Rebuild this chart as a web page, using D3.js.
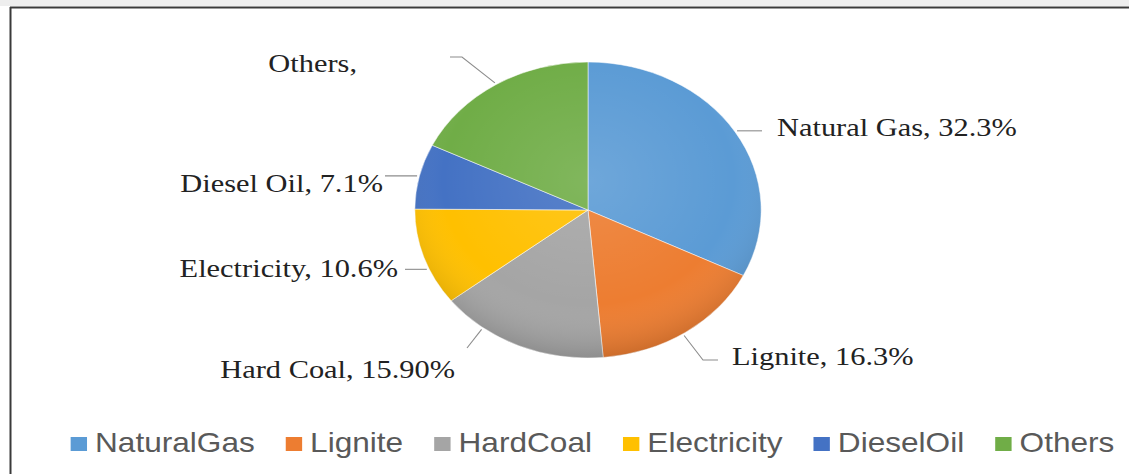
<!DOCTYPE html>
<html>
<head>
<meta charset="utf-8">
<script src="https://cdn.jsdelivr.net/npm/d3@7"></script>
<style>
  html, body { margin: 0; padding: 0; background: #fff; }
  svg { display: block; }
</style>
</head>
<body>
<div id="chart"></div>
<script>
// energy mix shares (%)
const categories = ["Natural Gas", "Lignite", "Hard Coal", "Electricity", "Diesel Oil", "Others"];
const legendNames = ["NaturalGas", "Lignite", "HardCoal", "Electricity", "DieselOil", "Others"];
const shares = [32.3, 16.3, 15.9, 10.6, 7.1, 17.8];
const labelTexts = ["Natural Gas, 32.3%", "Lignite, 16.3%", "Hard Coal, 15.90%", "Electricity, 10.6%", "Diesel Oil, 7.1%", "Others,"];

const colors = ["#5b9bd5", "#ed7d31", "#a5a5a5", "#ffc000", "#4472c4", "#70ad47"];

const W = 1129, H = 474;
const sx = 1.17;               // the original picture is stretched sideways
const vx = x => x / sx;         // real px -> drawing units

const svg = d3.select("#chart").append("svg")
    .attr("width", W).attr("height", H);

// frame: grey strip at top, dark top + left rule
svg.append("rect").attr("x", 0).attr("y", 0).attr("width", W).attr("height", 6).attr("fill", "#eeeeee");
svg.append("line").attr("x1", 10).attr("x2", W).attr("y1", 7.5).attr("y2", 7.5).attr("stroke", "#3a3a3a").attr("stroke-width", 2);
svg.append("line").attr("x1", 10.5).attr("x2", 10.5).attr("y1", 7).attr("y2", H).attr("stroke", "#3a3a3a").attr("stroke-width", 2);

const g = svg.append("g").attr("transform", `scale(${sx},1)`);

const cx = vx(588), cy = 210, r = 148;

const pie = d3.pie().sort(null).value(d => d)(shares);
const arc = d3.arc().innerRadius(0).outerRadius(r);

const defs = svg.append("defs");
const shade = defs.append("radialGradient").attr("id", "shade")
    .attr("cx", "50%").attr("cy", "40%").attr("r", "60%");
shade.append("stop").attr("offset", "0%").attr("stop-color", "#fff").attr("stop-opacity", 0.12);
shade.append("stop").attr("offset", "70%").attr("stop-color", "#fff").attr("stop-opacity", 0);
shade.append("stop").attr("offset", "100%").attr("stop-color", "#000").attr("stop-opacity", 0.14);

const pieG = g.append("g").attr("transform", `translate(${cx},${cy})`);
pieG.selectAll("path.slice").data(pie).enter().append("path")
    .attr("class", "slice")
    .attr("d", arc)
    .attr("fill", (d, i) => colors[i])
    .attr("stroke", "#ffffff")
    .attr("stroke-opacity", 0.6)
    .attr("stroke-width", 0.8);
pieG.append("circle").attr("r", r).attr("fill", "url(#shade)");

// data labels (manual placement, as in the original)
const edge = (d, t, rr) => {
    const a = d.startAngle + t * (d.endAngle - d.startAngle);
    return [cx + rr * Math.sin(a), cy - rr * Math.cos(a)];
};
const labelLayout = [
    {t: 0.5,  pts: p => [[vx(762), p[1]]],               x: 777, y: 136, anchor: "start"},
    {t: 0.52, pts: p => [[vx(703), 360], [vx(718), 360]], x: 732, y: 365, anchor: "start"},
    {t: 0.74, pts: p => [[vx(467), 348]],               x: 455, y: 378, anchor: "end"},
    {t: 0.38, pts: p => [[vx(405), p[1]]],               x: 398, y: 277, anchor: "end"},
    {t: 0.5,  pts: p => [[vx(385), p[1]]],               x: 383, y: 192, anchor: "end"},
    {t: 0.5,  pts: p => [[vx(462), 57], [vx(450), 57]],  x: 357, y: 72,  anchor: "end"}
];

const labels = g.append("g");
pie.forEach((d, i) => {
    const L = labelLayout[i];
    const p0 = edge(d, L.t, r + 2);
    const pts = [p0].concat(L.pts(p0));
    labels.append("path")
        .attr("d", d3.line()(pts))
        .attr("fill", "none")
        .attr("stroke", "#8c8c8c")
        .attr("stroke-width", 1.1)
        .attr("vector-effect", "non-scaling-stroke");
    labels.append("text")
        .attr("x", vx(L.x)).attr("y", L.y)
        .attr("text-anchor", L.anchor)
        .attr("font-family", "'Liberation Serif', 'Times New Roman', serif")
        .attr("font-size", 26)
        .attr("fill", "#222")
        .text(labelTexts[i]);
});

// legend
const legend = g.append("g");
const sq = 14, gapIn = vx(8), gapOut = vx(31);
const items = legendNames.map((name, i) => {
    const it = legend.append("g");
    it.append("rect").attr("width", sq).attr("height", sq).attr("y", 437).attr("fill", colors[i]);
    const tx = it.append("text")
        .attr("x", sq + gapIn).attr("y", 452)
        .attr("font-family", "'Liberation Sans', Arial, sans-serif")
        .attr("font-size", 27)
        .attr("fill", "#595959")
        .text(name);
    return {g: it, w: sq + gapIn + tx.node().getComputedTextLength()};
});
const total = d3.sum(items, d => d.w) + gapOut * (items.length - 1);
let x0 = vx(592.5) - total / 2;
items.forEach(d => {
    d.g.attr("transform", `translate(${x0},0)`);
    x0 += d.w + gapOut;
});
</script>
</body>
</html>
